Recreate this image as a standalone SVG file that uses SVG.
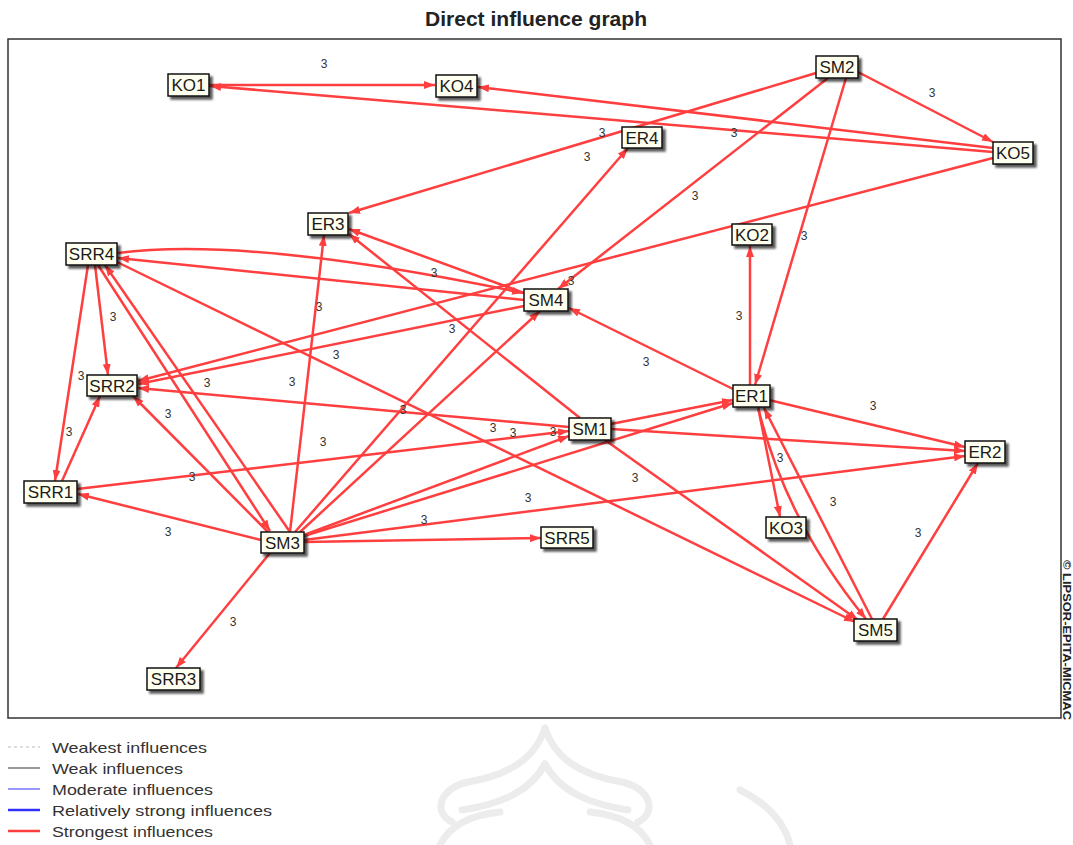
<svg xmlns="http://www.w3.org/2000/svg" width="1073" height="845" viewBox="0 0 1073 845">
<defs>
<marker id="ah" markerUnits="userSpaceOnUse" viewBox="0 0 11 8" refX="11" refY="4" markerWidth="11" markerHeight="8" orient="auto">
<path d="M0,0 L11,4 L0,8 z" fill="#ff3f3f"/>
</marker>
<filter id="sh" x="-20%" y="-30%" width="150%" height="180%">
<feDropShadow dx="3" dy="3" stdDeviation="1.2" flood-color="#000" flood-opacity="0.65"/>
</filter>
</defs>
<style>
.e{fill:none;stroke:#ff3f3f;stroke-width:2.5;marker-end:url(#ah)}
.n rect{fill:#fffff0;stroke:#111;stroke-width:1.5;filter:url(#sh)}
.n text{font-family:"Liberation Sans",Arial,sans-serif;font-size:17px;fill:#1a1a1a;text-anchor:middle}
.l{font-family:"Liberation Sans",Arial,sans-serif;font-size:12px;fill:#333;text-anchor:middle}
.lg{font-family:"Liberation Sans",Arial,sans-serif;font-size:15px;fill:#333}
.wm{fill:none;stroke:#ececec;stroke-width:7;stroke-linecap:round}
</style>
<rect width="1073" height="845" fill="#fff"/>
<g id="watermark">
<path class="wm" d="M545,728 C535,760 505,776 468,782 C440,788 432,812 452,822"/>
<path class="wm" d="M545,728 C555,760 585,776 622,782 C650,788 658,812 638,822"/>
<path class="wm" d="M545,764 C530,792 500,804 462,810"/>
<path class="wm" d="M545,764 C560,792 590,804 628,810"/>
<path class="wm" d="M440,845 C450,825 470,815 500,812"/>
<path class="wm" d="M650,845 C640,825 620,815 590,812"/>
<path class="wm" d="M740,790 C770,805 785,825 790,845"/>
</g>
<text x="536" y="26" font-family="Liberation Sans,Arial,sans-serif" font-size="20" font-weight="bold" fill="#222" text-anchor="middle" textLength="222" lengthAdjust="spacingAndGlyphs">Direct influence graph</text>
<rect x="8" y="39" width="1053" height="679" fill="#fff" stroke="#333" stroke-width="1.5"/>
<text transform="translate(1063,560) rotate(90)" font-family="Liberation Sans,Arial,sans-serif" font-size="10" font-weight="bold" fill="#222" textLength="160" lengthAdjust="spacingAndGlyphs">© LIPSOR-EPITA-MICMAC</text>
<g id="connectors">
<path class="e" d="M209,85 L435,85"/>
<path class="e" d="M993,148 L478,87"/>
<path class="e" d="M993,152 L210,86"/>
<path class="e" d="M858,72 L993,142"/>
<path class="e" d="M816,73 L349,213"/>
<path class="e" d="M828,78 L558,289"/>
<path class="e" d="M846,78 L755,385"/>
<path class="e" d="M750,385 L750,246"/>
<path class="e" d="M735,390 L569,308"/>
<path class="e" d="M993,158 L138,381"/>
<path class="e" d="M524,306 L138,384"/>
<path class="e" d="M524,300 L118,258"/>
<path class="e" d="M118,253 Q250,236 523,293"/>
<path class="e" d="M524,293 L349,229"/>
<path class="e" d="M580,418 L349,234"/>
<path class="e" d="M290,532 L324,235"/>
<path class="e" d="M295,532 L628,148"/>
<path class="e" d="M300,532 L540,311"/>
<path class="e" d="M95,265 L108,375"/>
<path class="e" d="M88,265 L55,481"/>
<path class="e" d="M62,481 L100,396"/>
<path class="e" d="M268,532 L133,396"/>
<path class="e" d="M98,265 L270,531"/>
<path class="e" d="M290,532 L105,265"/>
<path class="e" d="M117,262 L855,622"/>
<path class="e" d="M569,427 L138,388"/>
<path class="e" d="M611,429 L965,451"/>
<path class="e" d="M611,424 L733,400"/>
<path class="e" d="M605,440 L858,620"/>
<path class="e" d="M77,489 L569,431"/>
<path class="e" d="M304,535 L569,436"/>
<path class="e" d="M304,536 L733,403"/>
<path class="e" d="M304,540 L965,456"/>
<path class="e" d="M304,542 L541,538"/>
<path class="e" d="M769,400 L965,447"/>
<path class="e" d="M758,407 L780,517"/>
<path class="e" d="M758,407 Q785,520 866,619"/>
<path class="e" d="M872,619 L764,408"/>
<path class="e" d="M883,619 L978,463"/>
<path class="e" d="M261,540 L78,494"/>
<path class="e" d="M270,553 L176,668"/>
</g>
<g id="labels">
<text class="l" x="324" y="68">3</text>
<text class="l" x="932" y="97">3</text>
<text class="l" x="602" y="137">3</text>
<text class="l" x="734" y="137">3</text>
<text class="l" x="587" y="161">3</text>
<text class="l" x="695" y="200">3</text>
<text class="l" x="804" y="240">3</text>
<text class="l" x="434" y="277">3</text>
<text class="l" x="571" y="285">3</text>
<text class="l" x="113" y="321">3</text>
<text class="l" x="319" y="311">3</text>
<text class="l" x="739" y="320">3</text>
<text class="l" x="452" y="333">3</text>
<text class="l" x="336" y="359">3</text>
<text class="l" x="646" y="366">3</text>
<text class="l" x="81" y="380">3</text>
<text class="l" x="207" y="387">3</text>
<text class="l" x="292" y="386">3</text>
<text class="l" x="168" y="418">3</text>
<text class="l" x="403" y="414">3</text>
<text class="l" x="69" y="436">3</text>
<text class="l" x="493" y="432">3</text>
<text class="l" x="513" y="437">3</text>
<text class="l" x="553" y="436">3</text>
<text class="l" x="323" y="446">3</text>
<text class="l" x="873" y="410">3</text>
<text class="l" x="780" y="462">3</text>
<text class="l" x="192" y="481">3</text>
<text class="l" x="635" y="482">3</text>
<text class="l" x="833" y="506">3</text>
<text class="l" x="528" y="502">3</text>
<text class="l" x="424" y="524">3</text>
<text class="l" x="168" y="536">3</text>
<text class="l" x="918" y="537">3</text>
<text class="l" x="233" y="626">3</text>
</g>
<g id="KO1" class="n"><rect x="168" y="74" width="41" height="22"/><text x="188.5" y="91">KO1</text></g>
<g id="KO4" class="n"><rect x="436" y="75" width="41" height="22"/><text x="456.5" y="92">KO4</text></g>
<g id="SM2" class="n"><rect x="816" y="56" width="42" height="22"/><text x="837" y="73">SM2</text></g>
<g id="ER4" class="n"><rect x="622" y="127" width="40" height="21"/><text x="642" y="144">ER4</text></g>
<g id="KO5" class="n"><rect x="993" y="142" width="40" height="22"/><text x="1013" y="159">KO5</text></g>
<g id="ER3" class="n"><rect x="308" y="213" width="40" height="22"/><text x="328" y="230">ER3</text></g>
<g id="KO2" class="n"><rect x="732" y="224" width="40" height="21"/><text x="752" y="241">KO2</text></g>
<g id="SRR4" class="n"><rect x="66" y="243" width="51" height="22"/><text x="91.5" y="260">SRR4</text></g>
<g id="SM4" class="n"><rect x="524" y="289" width="44" height="22"/><text x="546" y="306">SM4</text></g>
<g id="SRR2" class="n"><rect x="87" y="375" width="50" height="21"/><text x="112" y="392">SRR2</text></g>
<g id="ER1" class="n"><rect x="733" y="385" width="37" height="22"/><text x="751.5" y="402">ER1</text></g>
<g id="SM1" class="n"><rect x="569" y="418" width="42" height="22"/><text x="590" y="435">SM1</text></g>
<g id="ER2" class="n"><rect x="965" y="441" width="40" height="22"/><text x="985" y="458">ER2</text></g>
<g id="SRR1" class="n"><rect x="24" y="481" width="53" height="22"/><text x="50.5" y="498">SRR1</text></g>
<g id="KO3" class="n"><rect x="766" y="517" width="40" height="21"/><text x="786" y="534">KO3</text></g>
<g id="SM3" class="n"><rect x="261" y="532" width="43" height="21"/><text x="282.5" y="549">SM3</text></g>
<g id="SRR5" class="n"><rect x="541" y="527" width="52" height="21"/><text x="567" y="544">SRR5</text></g>
<g id="SM5" class="n"><rect x="854" y="619" width="43" height="22"/><text x="875.5" y="636">SM5</text></g>
<g id="SRR3" class="n"><rect x="147" y="668" width="53" height="22"/><text x="173.5" y="685">SRR3</text></g>
<g id="legend">
<line x1="8" y1="747" x2="40" y2="747" stroke="#bbb" stroke-width="1" stroke-dasharray="3,3"/>
<text class="lg" x="52" y="753" textLength="155" lengthAdjust="spacingAndGlyphs">Weakest influences</text>
<line x1="8" y1="768" x2="40" y2="768" stroke="#333" stroke-width="1"/>
<text class="lg" x="52" y="774" textLength="131" lengthAdjust="spacingAndGlyphs">Weak influences</text>
<line x1="8" y1="789" x2="40" y2="789" stroke="#3030ff" stroke-width="1"/>
<text class="lg" x="52" y="795" textLength="161" lengthAdjust="spacingAndGlyphs">Moderate influences</text>
<line x1="8" y1="810" x2="40" y2="810" stroke="#3030ff" stroke-width="2.5"/>
<text class="lg" x="52" y="816" textLength="220" lengthAdjust="spacingAndGlyphs">Relatively strong influences</text>
<line x1="8" y1="831" x2="40" y2="831" stroke="#ff3f3f" stroke-width="2.5"/>
<text class="lg" x="52" y="837" textLength="161" lengthAdjust="spacingAndGlyphs">Strongest influences</text>
</g>
</svg>
